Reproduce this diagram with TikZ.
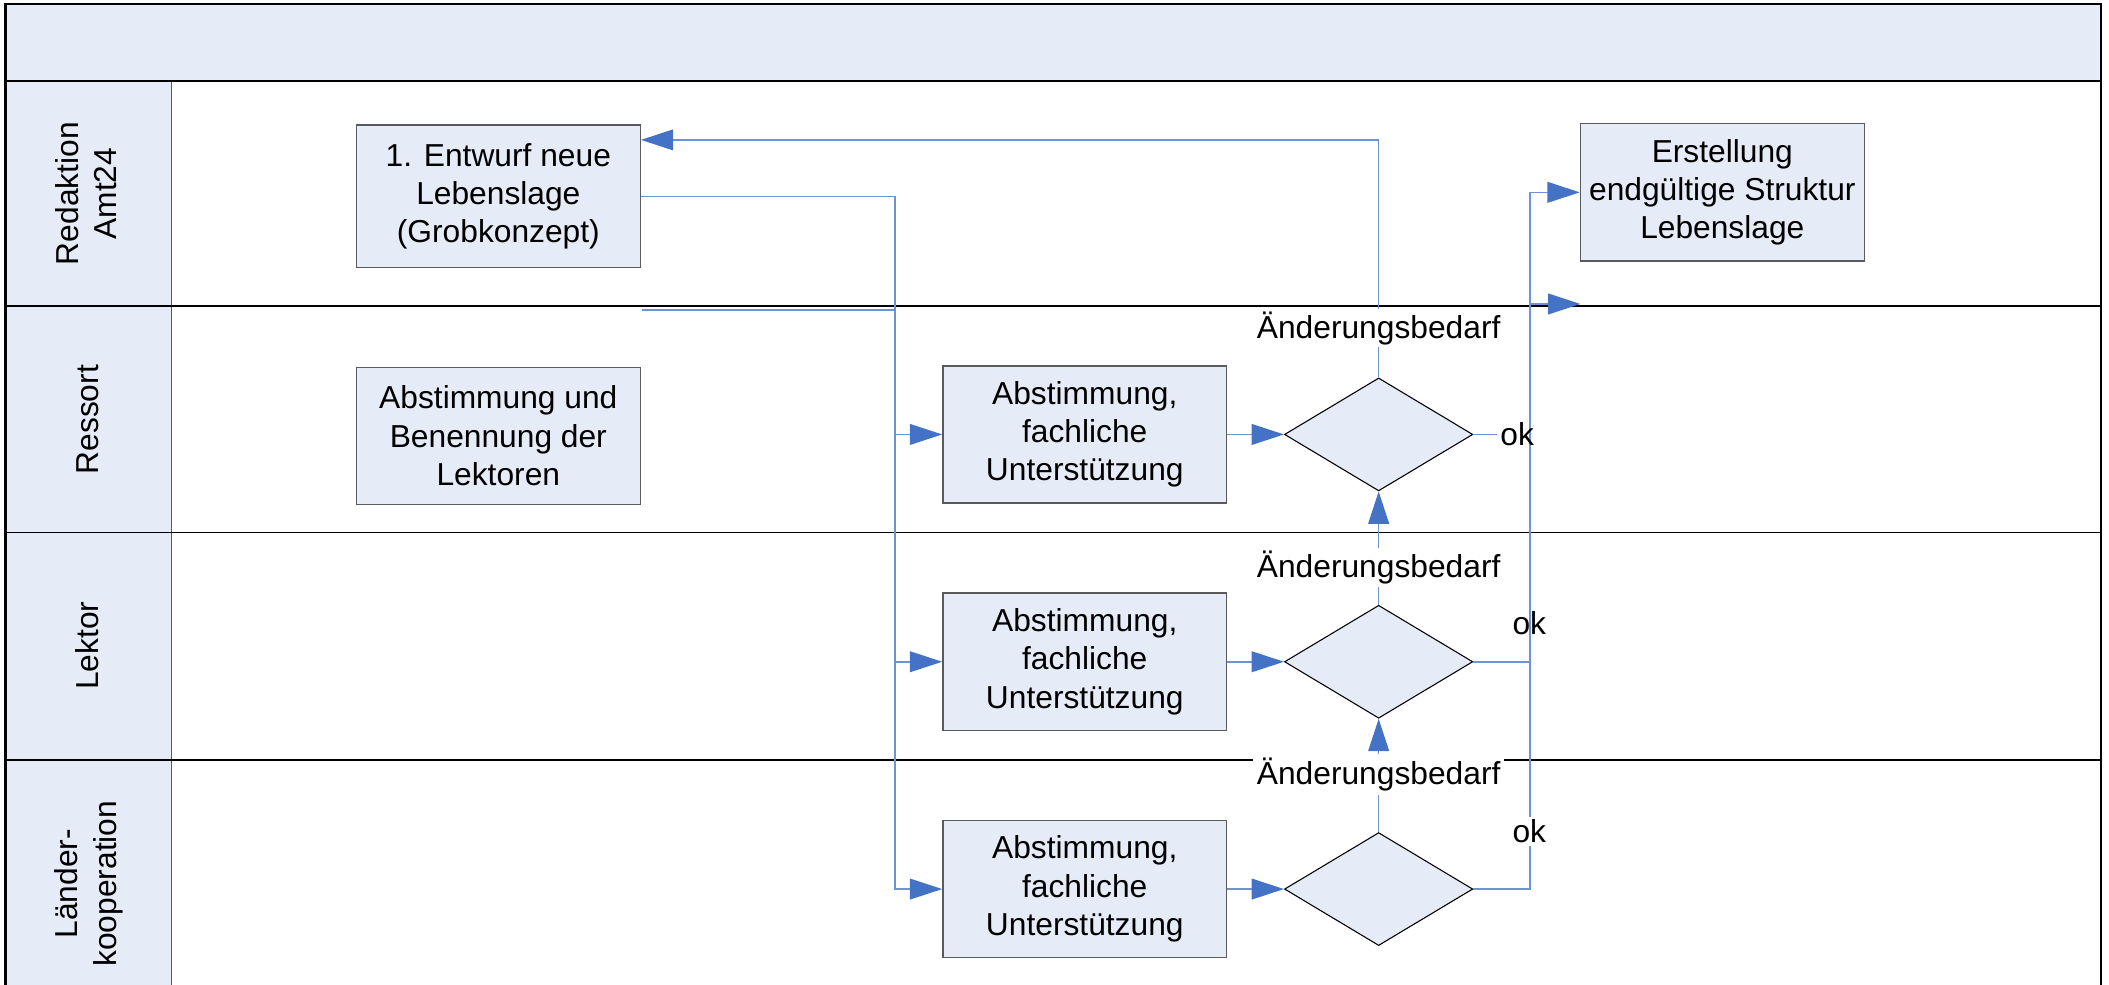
\documentclass[tikz,border=0pt]{standalone}
\usepackage{fontspec}
\setmainfont{Liberation Sans}
\usetikzlibrary{arrows.meta,shapes.geometric}
\definecolor{hdr}{HTML}{E6ECF7}
\definecolor{boxfill}{HTML}{E6ECF7}
\definecolor{boxline}{HTML}{5A5A5A}
\definecolor{conn}{HTML}{6E93D3}
\definecolor{tipc}{HTML}{4472C4}
\begin{document}
\begin{tikzpicture}[x=0.5pt,y=-0.5pt,
  font=\fontsize{11.8pt}{14.25pt}\selectfont,
  box/.style={draw=boxline,fill=boxfill,line width=0.5pt,minimum width=105.5pt,minimum height=51pt,inner sep=0pt,align=center},
  dec/.style={draw=black,fill=boxfill,line width=0.4pt,shape=diamond,minimum width=70pt,minimum height=42pt,inner sep=0pt},
  ln/.style={draw=conn,line width=0.6pt},
  arr/.style={ln,-{Triangle[length=12pt,width=7.7pt,color=tipc]}},
  lbl/.style={fill=white,inner sep=1pt},
  okl/.style={inner sep=1pt},
  lane/.style={rotate=90,align=center},
  sep/.style={draw=black,line width=0.6pt}]
\useasboundingbox (0,0) rectangle (1568,732.3);
\begin{scope}
\clip (0,0) rectangle (1568,732.3);
\fill[hdr] (4,3) rectangle (1562,60);
\fill[hdr] (4,60) rectangle (127.5,760);
\draw[boxline,line width=0.6pt] (127.5,60) -- (127.5,760);
\draw[sep] (4,60) -- (1562,60);
\draw[sep] (4,227.5) -- (1562,227.5);
\draw[sep] (4,396) -- (1562,396);
\draw[sep] (4,565) -- (1562,565);
\draw[black,line width=0.9pt] (4,760) -- (4,3) -- (1562,3) -- (1562,760);
\end{scope}

% lane labels
\node[lane] (l1) at (64,144) {Redaktion\\Amt24};
\node[lane] (l2) at (65,312) {Ressort};
\node[lane] (l3) at (65,480) {Lektor};
\node[lane] (l4) at (66,657) {Länder-\\kooperation};

% boxes
\node[box,minimum height=53pt] (b1) at (370.5,146) {1. Entwurf neue\\Lebenslage\\(Grobkonzept)};
\node[box] (b2) at (370.5,324) {Abstimmung und\\Benennung der\\Lektoren};
\node[box] (c1) at (806.5,323) {Abstimmung,\\fachliche\\Unterstützung};
\node[box] (c2) at (806.5,492) {Abstimmung,\\fachliche\\Unterstützung};
\node[box] (c3) at (806.5,661) {Abstimmung,\\fachliche\\Unterstützung};
\node[box] (e) at (1280.5,143) {Erstellung\\endgültige Struktur\\Lebenslage};

% decisions
\node[dec] (d1) at (1025,323) {};
\node[dec] (d2) at (1025,492) {};
\node[dec] (d3) at (1025,661) {};

% helper coordinates
\coordinate (j1) at (665.5,146);
\coordinate (j2) at (1137.5,143);
\coordinate (rt) at (0,104);
\coordinate (s1) at (477,230.5);
\coordinate (s2) at (1175,226);

% connectors
\draw[arr] (b1.east) -- (j1) |- (c3.west);
\draw[arr] (j1 |- c1.west) -- (c1.west);
\draw[arr] (j1 |- c2.west) -- (c2.west);
\draw[ln] (s1) -- (s1 -| j1);
\draw[arr] (c1.east) -- (d1.west);
\draw[arr] (c2.east) -- (d2.west);
\draw[arr] (c3.east) -- (d3.west);
\draw[arr] (d1.north) |- (b1.east |- rt);
\draw[arr] (d2.north) -- (d1.south);
\draw[arr] (d3.north) -- (d2.south);
\draw[arr] (d3.east) -| (j2) -- (e.west);
\draw[ln] (d2.east) -- (d2.east -| j2);
\draw[arr] (s2 -| j2) -- (s2);

% labels
\node[okl] (ok1) at (1128,323) {ok};
\draw[ln] (d1.east) -- (ok1.west);
\node[okl] (ok2) at (1137,463) {ok};
\node[lbl] (ok3) at (1137,618) {ok};
\node[lbl] (a1) at (1025,244) {Änderungsbedarf};
\node[lbl] (a2) at (1025,422) {Änderungsbedarf};
\node[lbl,inner sep=1.5pt] (a3) at (1025,576) {Änderungsbedarf};
\end{tikzpicture}
\end{document}
